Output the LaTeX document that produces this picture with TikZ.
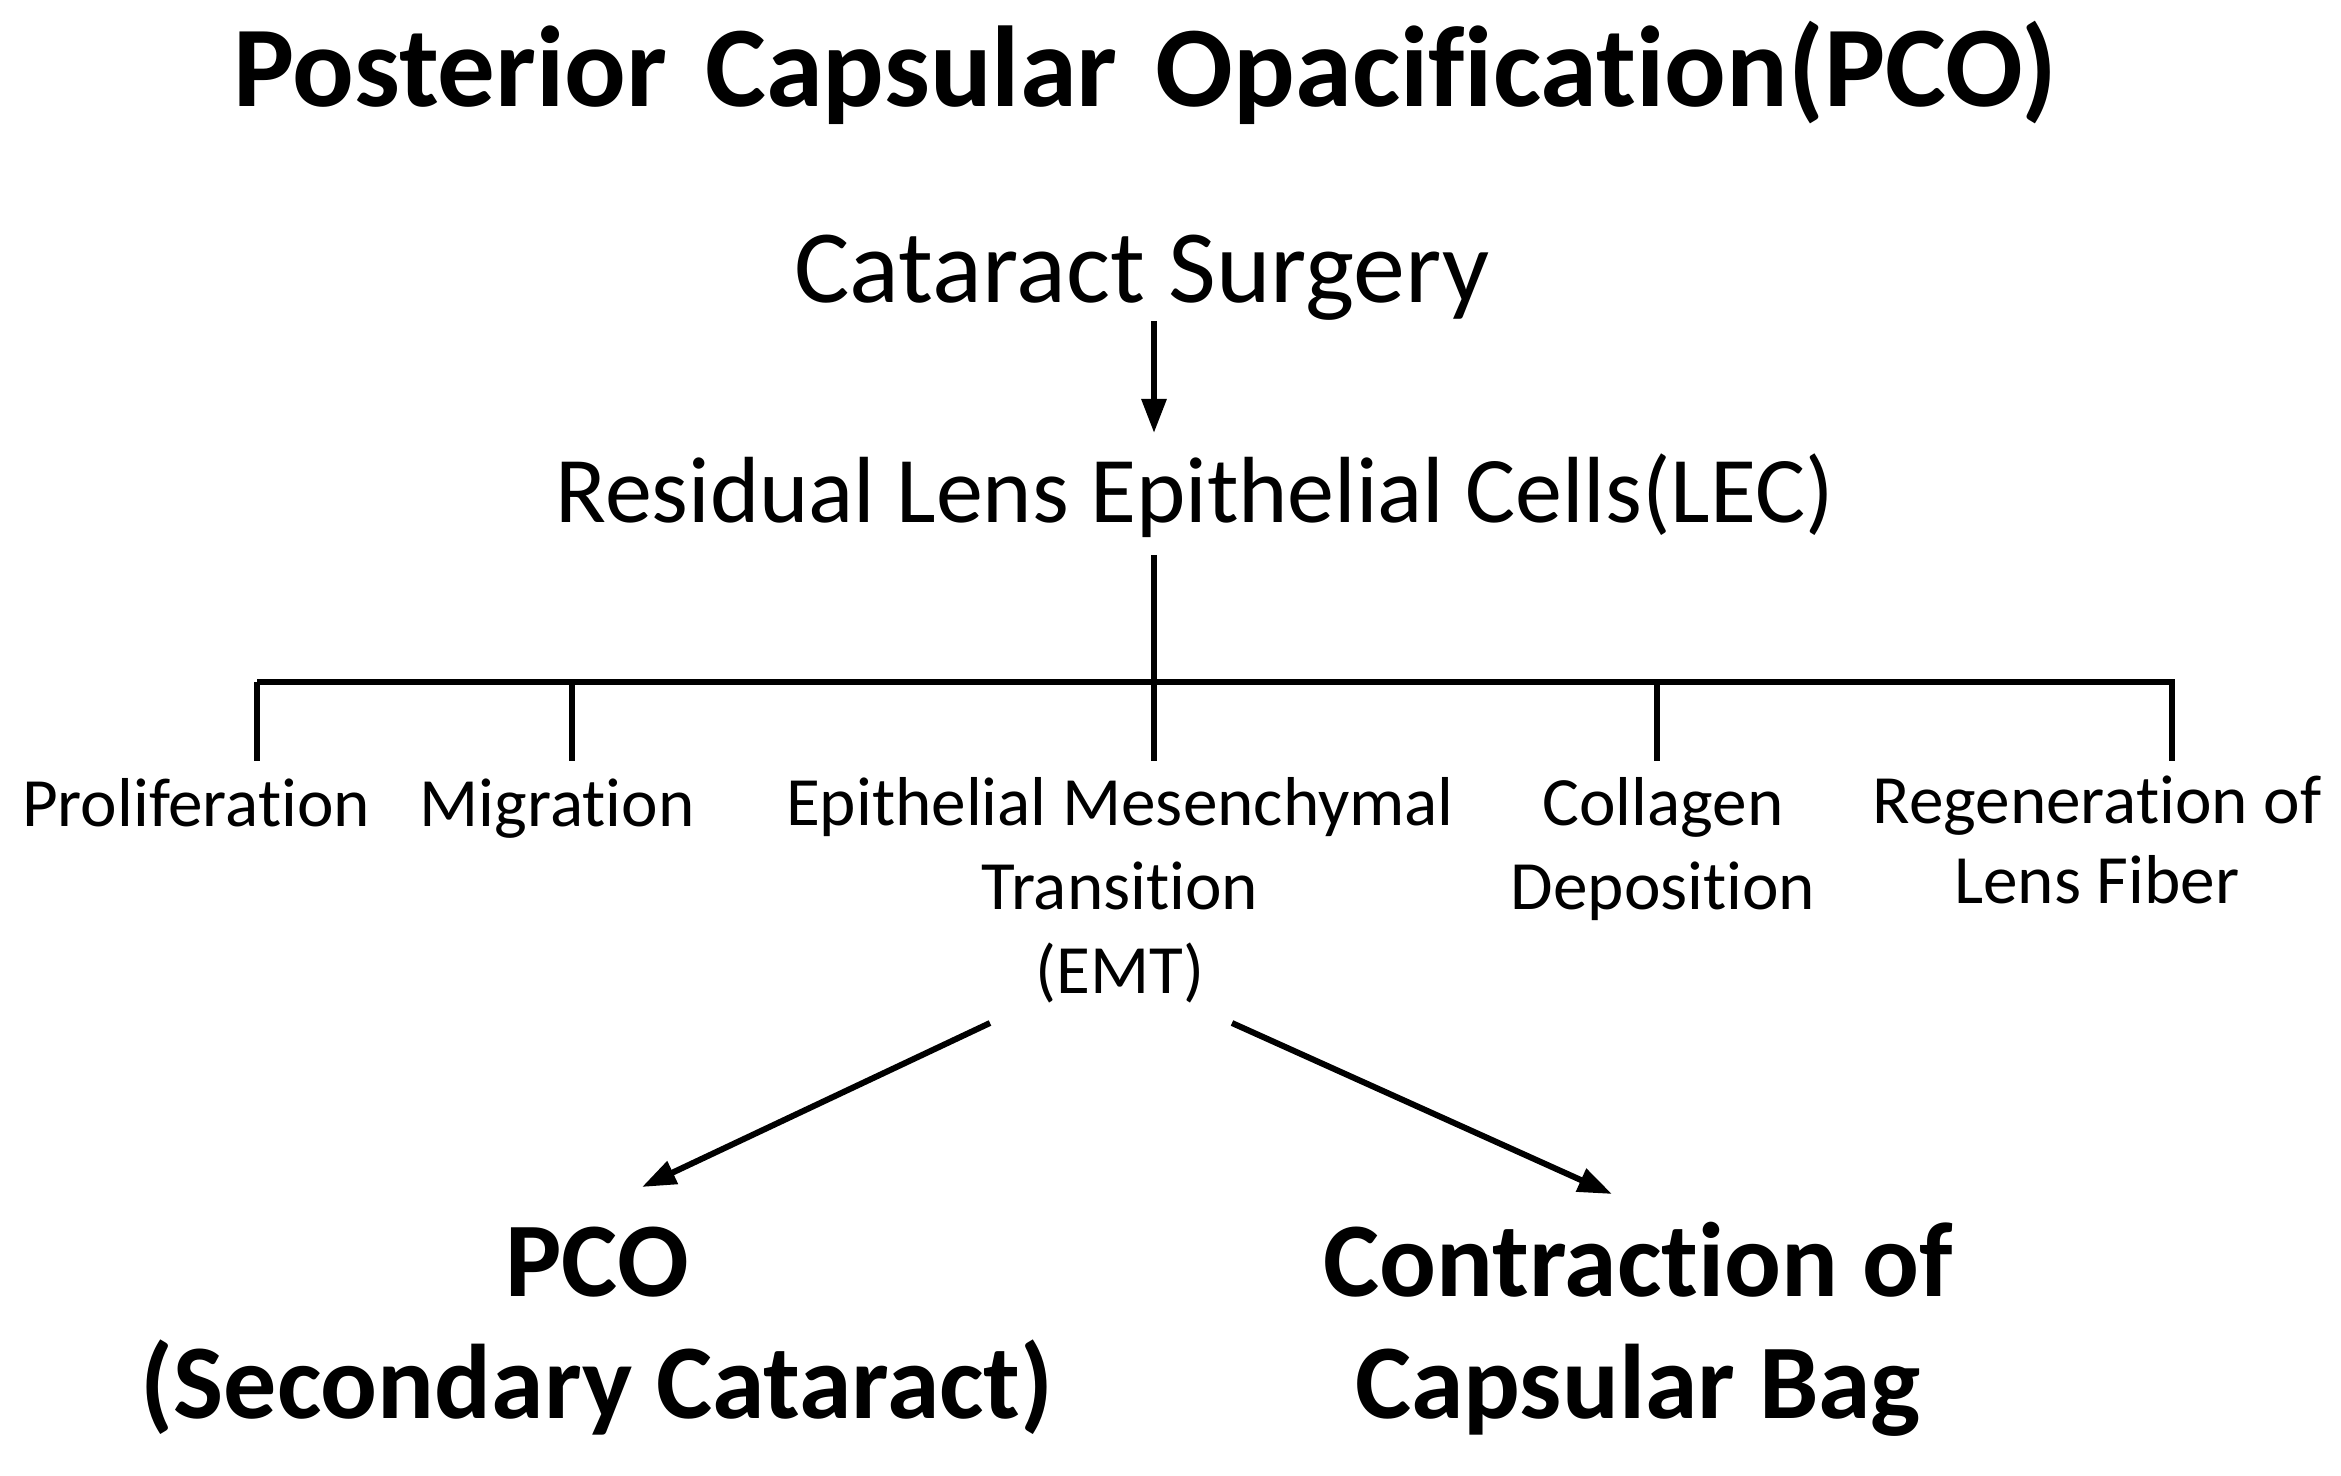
\documentclass[tikz,border=0pt]{standalone}
\usepackage{fontspec}
\setmainfont{Carlito}[Ligatures=NoCommon]
\usetikzlibrary{arrows.meta}
\begin{document}
\begin{tikzpicture}[x=0.5pt,y=-0.5pt,
  txt/.style={inner sep=0pt, anchor=base, align=center},
  title/.style={txt, font=\bfseries\fontsize{57.5}{68}\selectfont},
  big/.style={txt, font=\fontsize{52}{62}\selectfont},
  mid/.style={txt, font=\fontsize{47}{56}\selectfont},
  small/.style={txt, font=\fontsize{34.6}{42}\selectfont},
  res/.style={txt, font=\bfseries\fontsize{53}{61}\selectfont},
  ln/.style={line width=3pt},
  arr/.style={line width=3pt, -{Triangle[length=17pt,width=12pt]}}]
\useasboundingbox (0,0) rectangle (2341,1476);
\node[title] (t) at (1145,107) {Posterior\hspace{6pt} Capsular\hspace{6pt} Opacification(PCO)};
\node[big] (cs) at (1142,303) {Cataract Surgery};
\node[mid] (lec) at (1195,523) {Residual Lens Epithelial Cells(LEC)};
\node[small] (pro) at (196,826) {Proliferation};
\node[small] (mig) at (557,826) {Migration};
\node[small] (emt) at (1120,993) {Epithelial Mesenchymal\\Transition\\(EMT)};
\node[small] (col) at (1663,909) {Collagen\\Deposition};
\node[small, font=\fontsize{34.6}{40}\selectfont] (reg) at (2097,903) {Regeneration of\\Lens Fiber};
\node[res] (pco) at (597,1418) {PCO\\(Secondary Cataract)};
\node[res] (ccb) at (1638,1418) {Contraction of\\Capsular Bag};
% tree
\coordinate (a0) at (1154,321);
\coordinate (a1) at (1154,433);
\coordinate (l0) at (1154,555);
\coordinate (j) at (1154,682);
\coordinate (bl) at (257,682);
\coordinate (br) at (2175,682);
\coordinate (d1) at (257,761);
\coordinate (d2) at (572,761);
\coordinate (d3) at (1154,761);
\coordinate (d4) at (1657,761);
\coordinate (d5) at (2172,761);
\coordinate (e1) at (990,1023);
\coordinate (e2) at (1232,1023);
\coordinate (p1) at (642,1187);
\coordinate (p2) at (1612,1194);
\draw[arr] (a0) -- (a1);
\draw[ln] (l0) -- (j);
\draw[ln] (bl) -- (br);
\draw[ln] (d1 |- bl) -- (d1);
\draw[ln] (d2 |- bl) -- (d2);
\draw[ln] (d3 |- bl) -- (d3);
\draw[ln] (d4 |- bl) -- (d4);
\draw[ln] (d5 |- bl) -- (d5);
\draw[arr] (e1) -- (p1);
\draw[arr] (e2) -- (p2);
\end{tikzpicture}
\end{document}
